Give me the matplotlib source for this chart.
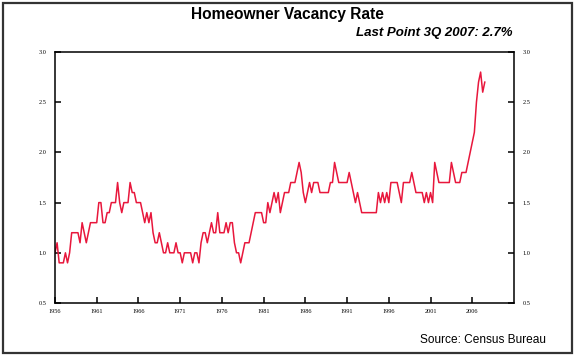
import matplotlib
matplotlib.use("Agg")
import matplotlib.pyplot as plt
import matplotlib.patches as mpatches
import numpy as np

# quarterly homeowner vacancy rate (%), 1956 Q1 .. 2007 Q3
rate_by_year = {
    1956: [1.0, 1.1, 0.9, 0.9],
    1957: [0.9, 1.0, 0.9, 1.0],
    1958: [1.2, 1.2, 1.2, 1.2],
    1959: [1.1, 1.3, 1.2, 1.1],
    1960: [1.2, 1.3, 1.3, 1.3],
    1961: [1.3, 1.5, 1.5, 1.3],
    1962: [1.3, 1.4, 1.4, 1.5],
    1963: [1.5, 1.5, 1.7, 1.5],
    1964: [1.4, 1.5, 1.5, 1.5],
    1965: [1.7, 1.6, 1.6, 1.5],
    1966: [1.5, 1.5, 1.4, 1.3],
    1967: [1.4, 1.3, 1.4, 1.2],
    1968: [1.1, 1.1, 1.2, 1.1],
    1969: [1.0, 1.0, 1.1, 1.0],
    1970: [1.0, 1.0, 1.1, 1.0],
    1971: [1.0, 0.9, 1.0, 1.0],
    1972: [1.0, 1.0, 0.9, 1.0],
    1973: [1.0, 0.9, 1.1, 1.2],
    1974: [1.2, 1.1, 1.2, 1.3],
    1975: [1.2, 1.2, 1.4, 1.2],
    1976: [1.2, 1.2, 1.3, 1.2],
    1977: [1.3, 1.3, 1.1, 1.0],
    1978: [1.0, 0.9, 1.0, 1.1],
    1979: [1.1, 1.1, 1.2, 1.3],
    1980: [1.4, 1.4, 1.4, 1.4],
    1981: [1.3, 1.3, 1.5, 1.4],
    1982: [1.5, 1.6, 1.5, 1.6],
    1983: [1.4, 1.5, 1.6, 1.6],
    1984: [1.6, 1.7, 1.7, 1.7],
    1985: [1.8, 1.9, 1.8, 1.6],
    1986: [1.5, 1.6, 1.7, 1.6],
    1987: [1.7, 1.7, 1.7, 1.6],
    1988: [1.6, 1.6, 1.6, 1.6],
    1989: [1.7, 1.7, 1.9, 1.8],
    1990: [1.7, 1.7, 1.7, 1.7],
    1991: [1.7, 1.8, 1.7, 1.6],
    1992: [1.5, 1.6, 1.5, 1.4],
    1993: [1.4, 1.4, 1.4, 1.4],
    1994: [1.4, 1.4, 1.4, 1.6],
    1995: [1.5, 1.6, 1.5, 1.6],
    1996: [1.5, 1.7, 1.7, 1.7],
    1997: [1.7, 1.6, 1.5, 1.7],
    1998: [1.7, 1.7, 1.7, 1.8],
    1999: [1.7, 1.6, 1.6, 1.6],
    2000: [1.6, 1.5, 1.6, 1.5],
    2001: [1.6, 1.5, 1.9, 1.8],
    2002: [1.7, 1.7, 1.7, 1.7],
    2003: [1.7, 1.7, 1.9, 1.8],
    2004: [1.7, 1.7, 1.7, 1.8],
    2005: [1.8, 1.8, 1.9, 2.0],
    2006: [2.1, 2.2, 2.5, 2.7],
    2007: [2.8, 2.6, 2.7],
}

year_ticks = [1956, 1961, 1966, 1971, 1976, 1981, 1986, 1991, 1996, 2001, 2006]
rate_ticks = [0.5, 1.0, 1.5, 2.0, 2.5, 3.0]

# flatten into a time axis (year + quarter/4)
t = []
rate = []
for yr, vals in rate_by_year.items():
    for i, v in enumerate(vals):
        t.append(yr + i / 4)
        rate.append(v)

plt.rcParams['font.family'] = ['Liberation Sans', 'DejaVu Sans']

fig = plt.figure(figsize=(5.75, 3.56), dpi=100)
ax = fig.add_axes([55 / 575, 1 - 303 / 356, 459 / 575, 251 / 356])

ax.plot(t, rate, color='#e8173c', lw=1.1)

ax.set_xlim(1956, 2011)
ax.set_ylim(0.5, 3.0)
ax.set_xticks(year_ticks)
ax.set_xticklabels([str(y) for y in year_ticks])
ax.set_yticks(rate_ticks)
ax.set_yticklabels([f"{v:.1f}" for v in rate_ticks])

for s in ax.spines.values():
    s.set_linewidth(1.1)
    s.set_color('black')

ax.tick_params(axis='x', direction='in', length=4, width=1.1, pad=4,
               labelsize=4.5, labelfontfamily='Liberation Serif')
ax.tick_params(axis='y', direction='in', length=4, width=1.1, pad=6,
               labelsize=4.5, labelfontfamily='Liberation Serif',
               left=True, right=True, labelleft=True, labelright=True)

# titles and notes
fig.text(0.5, 1 - 15 / 356, "Homeowner Vacancy Rate", ha='center', va='center',
         fontsize=11.2, fontweight='bold')
fig.text(512 / 575, 1 - 33 / 356, "Last Point 3Q 2007: 2.7%", ha='right', va='center',
         fontsize=9.5, fontweight='bold', fontstyle='italic')
fig.text(546 / 575, 1 - 340 / 356, "Source: Census Bureau", ha='right', va='center',
         fontsize=8.6)

# outer frame
frame = mpatches.Rectangle((3 / 575, 3 / 356), 569 / 575, 350 / 356,
                           transform=fig.transFigure, fill=False,
                           edgecolor='#333333', lw=1.6)
fig.patches.append(frame)

fig.savefig('out.png', dpi=100)
